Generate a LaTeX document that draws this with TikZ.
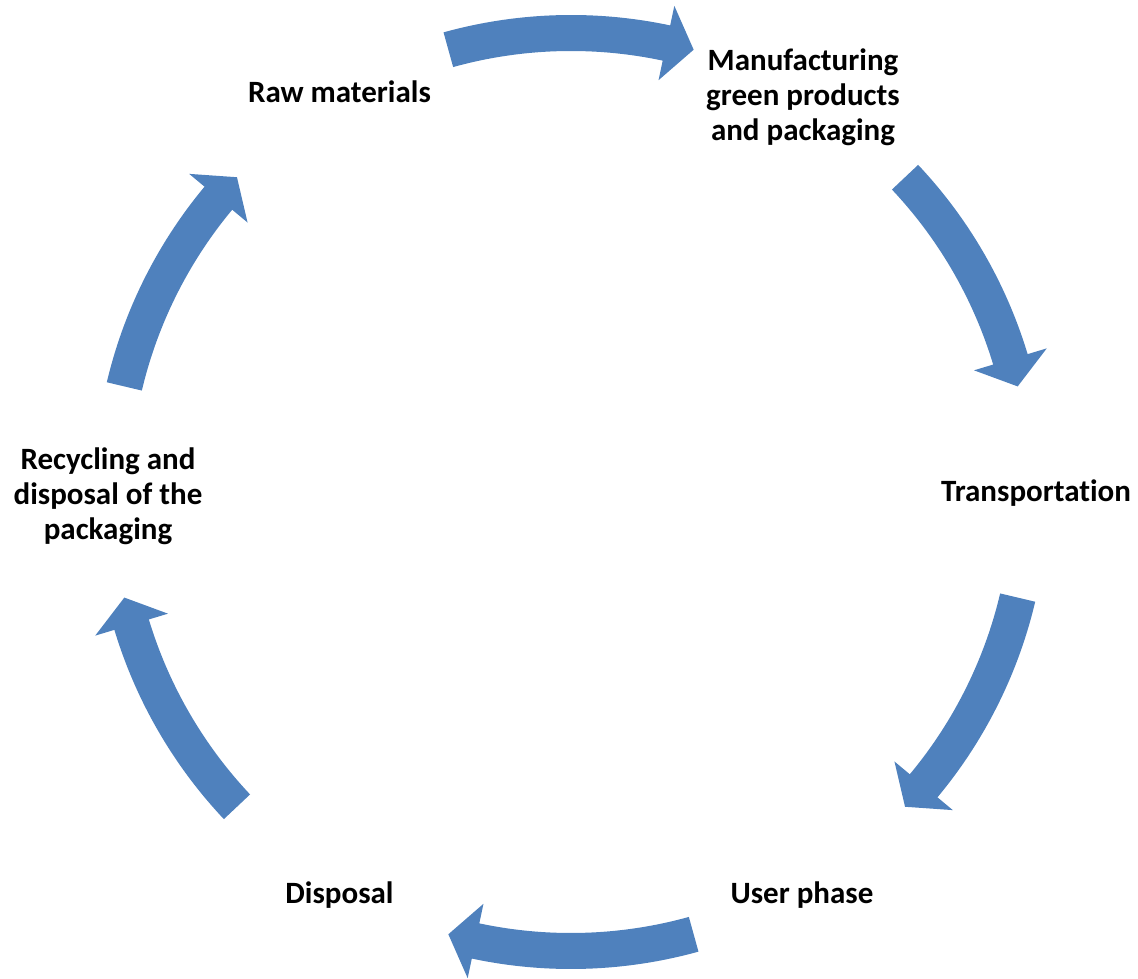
\documentclass[tikz,border=0pt]{standalone}
\usepackage{fontspec}
\setmainfont[Ligatures=NoCommon]{Carlito}
\definecolor{cycleblue}{HTML}{4F81BD}
\tikzset{
  stagelabel/.style={font=\bfseries\fontsize{31}{35}\selectfont, align=center, inner sep=0pt, text=black},
  blockarc/.style={fill=cycleblue, draw=none},
}
% curved block arrow around the cycle centre: #1 = tail angle, #2 = tip angle (clockwise)
\newcommand{\cyclearrow}[2]{%
  \pgfmathsetmacro{\headang}{#2+3.5}%
  \fill[blockarc] (#1:477pt) arc[start angle=#1, end angle=\headang, radius=477pt]
    -- (\headang:497pt) -- (#2:459pt) -- (\headang:421pt) -- (\headang:441pt)
    arc[start angle=\headang, end angle=#1, radius=441pt] -- cycle;}
\begin{document}
\begin{tikzpicture}[x=1pt,y=1pt]
  \useasboundingbox (0,0) rectangle (1138,978);
  \coordinate (centre) at (571,486);

  % stages of the cycle
  \node[stagelabel] (raw)   at (339.5,886) {Raw materials};
  \node[stagelabel] (manuf) at (803,881) {Manufacturing\\green products\\and packaging};
  \node[stagelabel] (trans) at (1036,485) {Transportation};
  \node[stagelabel] (user)  at (802,83) {User phase};
  \node[stagelabel] (disp)  at (339.5,83) {Disposal};
  \node[stagelabel] (recyc) at (108,482) {Recycling and\\disposal of the\\packaging};

  % arrows between consecutive stages
  \begin{scope}[shift={(centre)}]
    \cyclearrow{105.5}{74.5}
    \cyclearrow{43.3}{13.3}
    \cyclearrow{-13.3}{-43.3}
    \cyclearrow{-74.5}{-105.5}
    \cyclearrow{-136.7}{-166.7}
    \cyclearrow{166.7}{136.7}
  \end{scope}
\end{tikzpicture}
\end{document}
